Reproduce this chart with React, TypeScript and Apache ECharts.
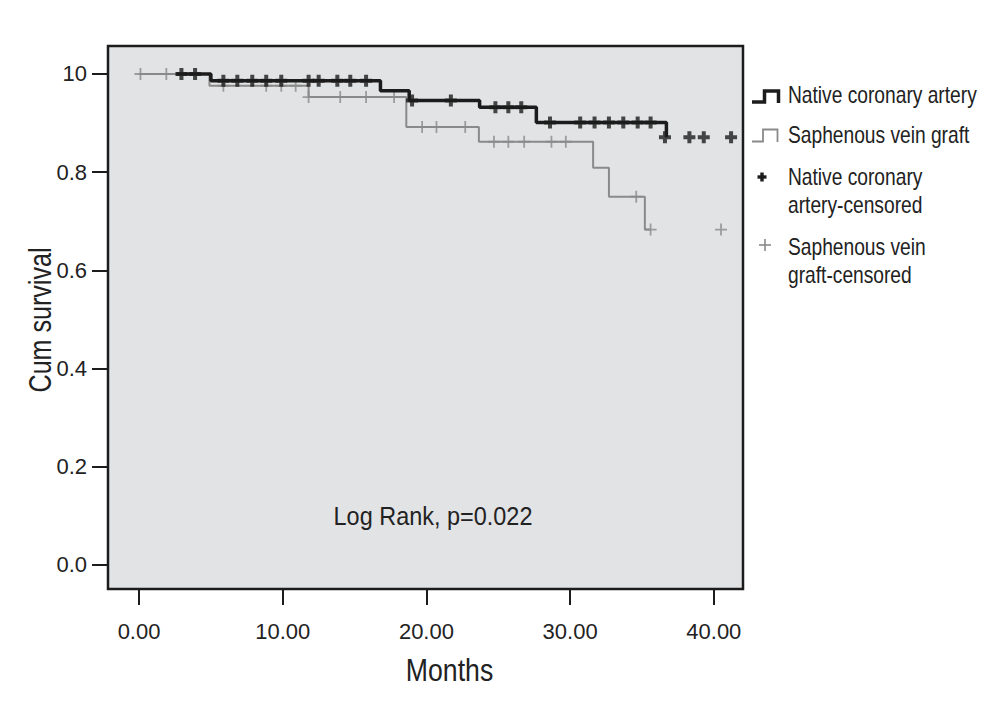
import React, { useEffect, useRef } from "react";
import * as echarts from "echarts";

const FONT = "'Liberation Sans', Arial, Helvetica, sans-serif";

const xTickValues = [0, 10, 20, 30, 40];
const xTickLabels = ["0.00", "10.00", "20.00", "30.00", "40.00"];
const yTickValues = [0, 0.2, 0.4, 0.6, 0.8, 1.0];
const yTickLabels = ["0.0", "0.2", "0.4", "0.6", "0.8", "10"];

// Kaplan-Meier step curves (time in months, cumulative survival)
const nativeTimes = [2.6, 5.0, 16.8, 18.8, 23.7, 27.65, 36.7];
const nativeSurv = [1.0, 0.986, 0.966, 0.946, 0.932, 0.901, 0.871];
const saphTimes = [0, 4.9, 11.8, 18.6, 23.65, 31.6, 32.7, 35.2, 35.6];
const saphSurv = [1.0, 0.976, 0.953, 0.892, 0.862, 0.809, 0.75, 0.683, 0.683];

// Censored observations
const nativeCensTimes = [2.95, 3.9, 5.87, 6.84, 7.88, 8.85, 9.9, 11.8, 12.5, 13.8, 14.7, 15.8, 19.0, 21.7, 24.8, 25.7, 26.6, 28.6, 30.7, 31.7, 32.7, 33.7, 34.7, 35.6, 36.6, 38.3, 39.3, 41.2];
const nativeCensSurv = [1.0, 1.0, 0.986, 0.986, 0.986, 0.986, 0.986, 0.986, 0.986, 0.986, 0.986, 0.986, 0.946, 0.946, 0.932, 0.932, 0.932, 0.901, 0.901, 0.901, 0.901, 0.901, 0.901, 0.901, 0.871, 0.871, 0.871, 0.871];
const saphCensTimes = [0.1, 1.9, 5.87, 8.85, 9.9, 10.9, 11.8, 14.0, 15.8, 17.75, 19.7, 20.7, 22.7, 24.7, 25.7, 26.8, 28.7, 29.7, 34.6, 35.6, 40.5];
const saphCensSurv = [1.0, 1.0, 0.976, 0.976, 0.976, 0.976, 0.953, 0.953, 0.953, 0.953, 0.892, 0.892, 0.892, 0.862, 0.862, 0.862, 0.862, 0.862, 0.75, 0.683, 0.683];

const BLACK = "#1c1c1c";
const GRAY = "#8a8a8a";
const TEXT = "#222222";

const boldPlus = "path://M4,0H8V4H12V8H8V12H4V8H0V4H4Z";
const thinPlus = "path://M5.1,0H6.9V5.1H12V6.9H6.9V12H5.1V6.9H0V5.1H5.1Z";

const zip = (a: number[], b: number[]) => a.map((v, i) => [v, b[i]]);

export default function App() {
  const ref = useRef<HTMLDivElement>(null);
  useEffect(() => {
    document.body.style.margin = "0";
    const chart = echarts.init(ref.current!, undefined, { renderer: "svg" });
    const legendText = (x: number, y: number, t: string) => ({
      type: "text",
      x,
      y,
      scaleX: 0.8,
      style: { text: t, fontFamily: FONT, fontSize: 24, fill: TEXT, textAlign: "left", verticalAlign: "middle" },
    });
    chart.setOption({
      animation: false,
      backgroundColor: "#ffffff",
      grid: {
        left: 108,
        right: 261,
        top: 46,
        bottom: 127,
        show: true,
        backgroundColor: "#e2e3e5",
        borderColor: BLACK,
        borderWidth: 2.5,
        containLabel: false,
      },
      xAxis: {
        type: "value",
        min: -2.16,
        max: 42.03,
        axisLine: { show: false, onZero: false },
        splitLine: { show: false },
        axisTick: { show: true, length: 16, lineStyle: { color: BLACK, width: 2 }, customValues: xTickValues },
        axisLabel: {
          customValues: xTickValues,
          formatter: (v: number) => xTickLabels[xTickValues.indexOf(v)] ?? "",
          fontFamily: FONT,
          fontSize: 22,
          color: TEXT,
          margin: 31,
        },
      },
      yAxis: {
        type: "value",
        min: -0.049,
        max: 1.057,
        axisLine: { show: false, onZero: false },
        splitLine: { show: false },
        axisTick: { show: true, length: 16, lineStyle: { color: BLACK, width: 2 }, customValues: yTickValues },
        axisLabel: {
          customValues: yTickValues,
          formatter: (v: number) => {
            const i = yTickValues.findIndex((t) => Math.abs(t - v) < 1e-6);
            return i >= 0 ? yTickLabels[i] : "";
          },
          fontFamily: FONT,
          fontSize: 22,
          color: TEXT,
          margin: 21,
        },
      },
      series: [
        {
          type: "line",
          step: "end",
          data: zip(saphTimes, saphSurv),
          symbol: "none",
          lineStyle: { color: GRAY, width: 2 },
          z: 2,
        },
        {
          type: "scatter",
          data: zip(saphCensTimes, saphCensSurv),
          symbol: thinPlus,
          symbolSize: 12,
          itemStyle: { color: GRAY },
          z: 3,
        },
        {
          type: "line",
          step: "end",
          data: zip(nativeTimes, nativeSurv),
          symbol: "none",
          lineStyle: { color: BLACK, width: 3.5 },
          z: 4,
        },
        {
          type: "scatter",
          data: zip(nativeCensTimes, nativeCensSurv),
          symbol: boldPlus,
          symbolSize: 12,
          itemStyle: { color: BLACK },
          z: 5,
        },
      ],
      graphic: [
        {
          type: "text",
          x: 433,
          y: 516,
          scaleX: 0.92,
          style: { text: "Log Rank, p=0.022", fontFamily: FONT, fontSize: 25.5, fill: TEXT, textAlign: "center", verticalAlign: "middle" },
          z: 10,
        },
        {
          type: "text",
          x: 449.5,
          y: 670,
          scaleX: 0.86,
          style: { text: "Months", fontFamily: FONT, fontSize: 31, fill: TEXT, textAlign: "center", verticalAlign: "middle" },
        },
        {
          type: "text",
          x: 40,
          y: 320,
          rotation: Math.PI / 2,
          scaleX: 0.81,
          style: { text: "Cum survival", fontFamily: FONT, fontSize: 31, fill: TEXT, textAlign: "center", verticalAlign: "middle" },
        },
        {
          type: "polyline",
          shape: { points: [[752, 102], [764.5, 102], [764.5, 91], [778.5, 91], [778.5, 103]] },
          style: { stroke: BLACK, lineWidth: 3.5, fill: "none" },
        },
        {
          type: "polyline",
          shape: { points: [[752, 141.5], [763, 141.5], [763, 129.5], [777.5, 129.5], [777.5, 142]] },
          style: { stroke: GRAY, lineWidth: 1.8, fill: "none" },
        },
        { type: "rect", shape: { x: 757.5, y: 175.3, width: 9, height: 3.4 }, style: { fill: BLACK } },
        { type: "rect", shape: { x: 760.3, y: 172.5, width: 3.4, height: 9 }, style: { fill: BLACK } },
        { type: "rect", shape: { x: 759, y: 244.2, width: 12, height: 1.6 }, style: { fill: GRAY } },
        { type: "rect", shape: { x: 764.2, y: 239, width: 1.6, height: 12 }, style: { fill: GRAY } },
        legendText(788, 95, "Native coronary artery"),
        legendText(788, 135, "Saphenous vein graft"),
        legendText(788, 177, "Native coronary"),
        legendText(788, 205, "artery-censored"),
        legendText(788, 247, "Saphenous vein"),
        legendText(788, 275, "graft-censored"),
      ],
    });
    return () => chart.dispose();
  }, []);
  return <div ref={ref} style={{ width: 1004, height: 716 }} />;
}
